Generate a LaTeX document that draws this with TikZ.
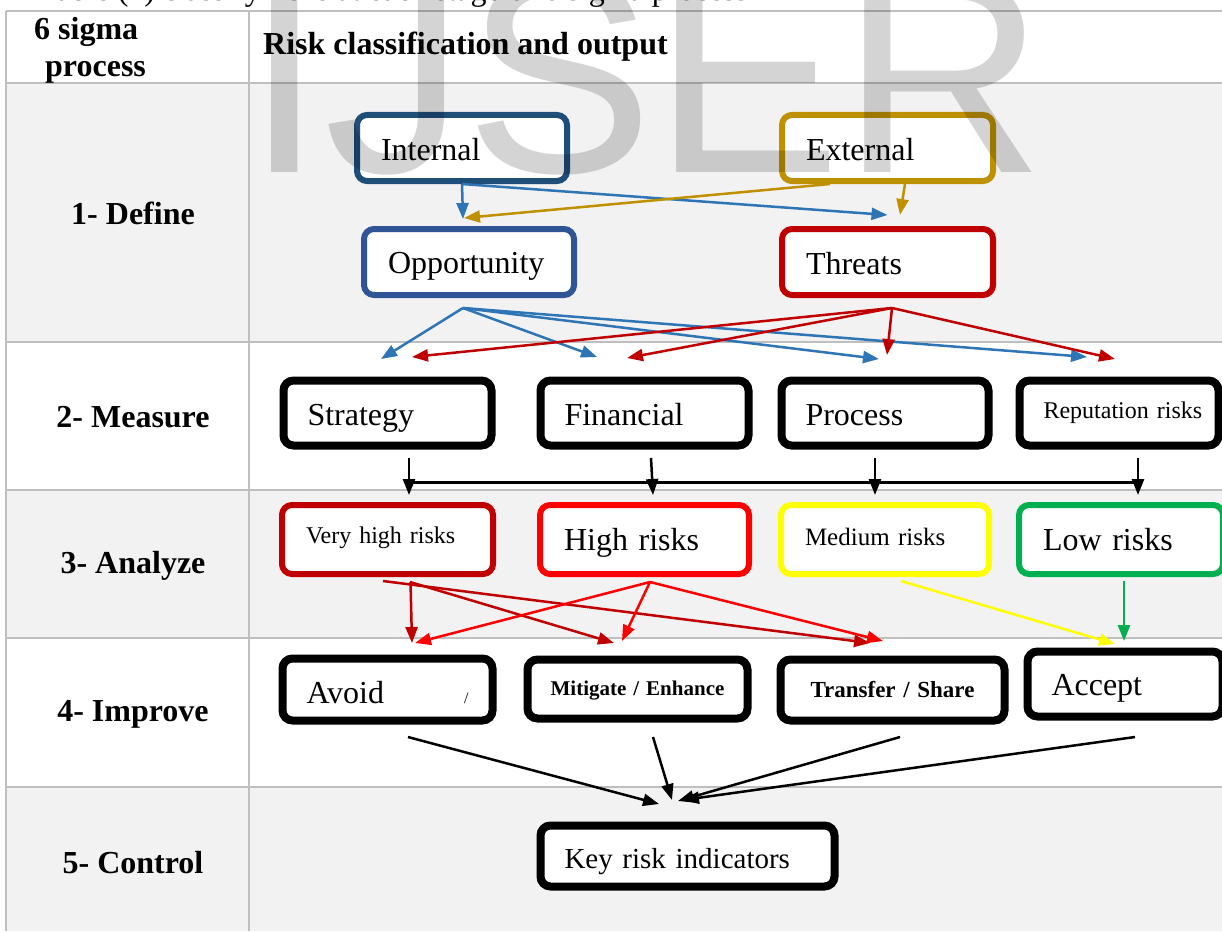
\documentclass[tikz,border=0pt]{standalone}
\usepackage{fontspec}
\setmainfont{Liberation Serif}
\newfontfamily\wmfont{Liberation Sans}
\usetikzlibrary{arrows.meta}
\newcommand\fs[1]{\fontsize{#1}{#1}\selectfont}
\definecolor{dblue}{HTML}{1F4E79}
\definecolor{gold}{HTML}{BF9000}
\definecolor{mblue}{HTML}{2F5597}
\definecolor{dred}{HTML}{C00000}
\definecolor{abl}{HTML}{2E75B6}
\definecolor{rred}{HTML}{FF0000}
\definecolor{yel}{HTML}{FFFF00}
\definecolor{grn}{HTML}{00B050}
\definecolor{cellgrey}{HTML}{F2F2F2}
\definecolor{rulegrey}{HTML}{BFBFBF}
\begin{document}
\begin{tikzpicture}[x=1pt,y=-1pt,
  bx/.style={draw=#1, fill=white, rounded corners=10pt, inner xsep=24pt, inner ysep=0pt, align=left, font=\fs{32}, text depth=0pt},
  bl/.style={text height=#1},
  cbx/.style={bx=#1, line width=6pt},
  kbx/.style={bx=black, line width=8pt},
  ar/.style={draw=#1, line width=2.5pt, -{Triangle[length=16pt,width=12pt]}},
  rowlbl/.style={font=\fs{32}\bfseries, inner sep=0pt},
  gridline/.style={draw=rulegrey, line width=2pt}]
\useasboundingbox (0,0) rectangle (1222,931);
\clip (0,0) rectangle (1222,931);
\fill[white] (0,0) rectangle (1222,931);
% table
\fill[cellgrey] (6,83) rectangle (1222,342);
\fill[cellgrey] (6,490) rectangle (1222,638);
\fill[cellgrey] (6,787) rectangle (1222,931);
\draw[gridline] (6,11) -- (1222,11);
\draw[gridline] (6,83) -- (1222,83);
\draw[gridline] (6,342) -- (1222,342);
\draw[gridline] (6,490) -- (1222,490);
\draw[gridline] (6,638) -- (1222,638);
\draw[gridline] (6,787) -- (1222,787);
\draw[gridline] (6,11) -- (6,931);
\draw[gridline] (249,11) -- (249,931);
% caption (cut off at top)
\node[anchor=base west, inner sep=0pt, font=\fs{32}] (cap) at (39,1) {Table (1) classify risks at each stage of 6 sigma process};
% header and row labels
\node[anchor=west, inner sep=0pt, align=left, font=\fontsize{32}{37}\selectfont\bfseries] (hdrA) at (34,50) {6 sigma\\\hspace*{11pt}process};
\node[anchor=west, rowlbl] (hdrB) at (263,47) {Risk classification and output};
\node[rowlbl] (lDefine) at (133,213) {1- Define};
\node[rowlbl] (lMeasure) at (133,417) {2- Measure};
\node[rowlbl] (lAnalyze) at (133,566) {3- Analyze};
\node[rowlbl] (lImprove) at (133,714) {4- Improve};
\node[rowlbl] (lControl) at (133,863) {5- Control};
% define row
\node[cbx=dblue, bl=24pt, minimum width=210pt, minimum height=66pt, text width=162pt] (internal) at (462,148) {Internal};
\node[cbx=gold, bl=24pt, minimum width=211pt, minimum height=66pt, text width=163pt] (external) at (887.5,148) {External};
\node[cbx=mblue, bl=22pt, minimum width=210pt, minimum height=66pt, text width=162pt] (opportunity) at (469,262) {Opportunity};
\node[cbx=dred, bl=24pt, minimum width=211pt, minimum height=66pt, text width=163pt] (threats) at (887.5,262) {Threats};
% measure row
\node[kbx, bl=24pt, minimum width=208pt, minimum height=65pt, text width=160pt] (strategy) at (387.5,413) {Strategy};
\node[kbx, bl=24pt, minimum width=208pt, minimum height=65pt, text width=160pt] (financial) at (644.5,413) {Financial};
\node[kbx, bl=24pt, minimum width=207pt, minimum height=65pt, text width=159pt] (process) at (885,413) {Process};
\node[kbx, bl=10pt, minimum width=199pt, minimum height=65pt, text width=151pt, font=\fs{24}] (reputation) at (1119,413) {\mbox{Reputation risks}};
% analyze row
\node[cbx=dred, bl=7pt, minimum width=211pt, minimum height=69pt, text width=163pt, font=\fs{24}] (veryhigh) at (387.5,539.5) {Very high risks};
\node[cbx=rred, bl=21pt, minimum width=209pt, minimum height=69pt, text width=161pt] (high) at (644.5,539.5) {High risks};
\node[cbx=yel, bl=11pt, minimum width=208pt, minimum height=69pt, text width=160pt, font=\fs{25}] (medium) at (885,539.5) {Medium risks};
\node[cbx=grn, bl=21pt, minimum width=204pt, minimum height=69pt, text width=156pt] (low) at (1121,539.5) {Low risks};
% improve row
\node[kbx, bl=27pt, minimum width=210pt, minimum height=62pt, text width=162pt] (avoid) at (387.5,689.5) {Avoid\hfill{\fs{16}/}\hspace*{3pt}};
\node[kbx, bl=12pt, minimum width=220pt, minimum height=59pt, inner xsep=5pt, text width=210pt, align=center, font=\fs{21}\bfseries] (mitigate) at (637.5,689) {Mitigate / Enhance};
\node[kbx, bl=14pt, minimum width=224pt, minimum height=61pt, inner xsep=5pt, text width=214pt, align=center, font=\fs{23}\bfseries] (transfer) at (892.5,690) {Transfer / Share};
\node[kbx, bl=22pt, minimum width=195pt, minimum height=65pt, text width=147pt] (accept) at (1125,684) {Accept};
% control row
\node[kbx, bl=24pt, minimum width=294pt, minimum height=61pt, text width=246pt, font=\fs{29}] (key) at (687.5,856) {Key risk indicators};
% define arrows
\draw[ar=abl] (internal.south) -- ([xshift=-6pt,yshift=7pt]opportunity.north);
\draw[ar=abl] (internal.south) -- ([yshift=11pt]threats.north);
\draw[ar=gold] ([xshift=-57.5pt]external.south) -- ([xshift=-5pt,yshift=8pt]opportunity.north);
\draw[ar=gold] ([xshift=17.5pt]external.south) -- ([xshift=12.5pt,yshift=11pt]threats.north);
% opportunity / threats to measure
\draw[ar=abl] ([xshift=-6pt,yshift=-10pt]opportunity.south) -- ([xshift=-6.5pt,yshift=17.5pt]strategy.north);
\draw[ar=abl] ([xshift=-6pt,yshift=-10pt]opportunity.south) -- ([xshift=-47.5pt,yshift=19.5pt]financial.north);
\draw[ar=abl] ([xshift=-6pt,yshift=-10pt]opportunity.south) -- ([xshift=-6pt,yshift=17.5pt]process.north);
\draw[ar=abl] ([xshift=-6pt,yshift=-10pt]opportunity.south) -- ([xshift=-32pt,yshift=19.5pt]reputation.north);
\draw[ar=dred] ([xshift=4.5pt,yshift=-10pt]threats.south) -- ([xshift=24.5pt,yshift=19.5pt]strategy.north);
\draw[ar=dred] ([xshift=4.5pt,yshift=-10pt]threats.south) -- ([xshift=-17.5pt,yshift=18.5pt]financial.north);
\draw[ar=dred] ([xshift=4.5pt,yshift=-10pt]threats.south) -- ([xshift=2pt,yshift=21.5pt]process.north);
\draw[ar=dred] ([xshift=4.5pt,yshift=-10pt]threats.south) -- ([xshift=-4pt,yshift=17.5pt]reputation.north);
% measure to analyze
\draw[line width=3pt] ([xshift=21.5pt,yshift=-32.5pt]strategy.south) -- ([xshift=19pt,yshift=-32.5pt]reputation.south);
\draw[ar=black] ([xshift=21.5pt,yshift=-8.5pt]strategy.south) -- ([xshift=21.5pt,yshift=7pt]veryhigh.north);
\draw[ar=black] ([xshift=6.5pt,yshift=-8.5pt]financial.south) -- ([xshift=8.5pt,yshift=7pt]high.north);
\draw[ar=black] ([xshift=-10pt,yshift=-8.5pt]process.south) -- ([xshift=-10pt,yshift=7pt]medium.north);
\draw[ar=black] ([xshift=19pt,yshift=-8.5pt]reputation.south) -- ([xshift=17pt,yshift=7pt]low.north);
% analyze to improve
\draw[ar=dred] ([xshift=23pt,yshift=-5pt]veryhigh.south) -- ([xshift=24.5pt,yshift=11.5pt]avoid.north);
\draw[ar=dred] ([xshift=22.5pt,yshift=-5pt]veryhigh.south) -- ([xshift=-23.5pt,yshift=12.5pt]mitigate.north);
\draw[ar=dred] ([xshift=-4.5pt,yshift=-4pt]veryhigh.south) -- ([xshift=-22.5pt,yshift=12.5pt]transfer.north);
\draw[ar=rred] ([xshift=5.5pt,yshift=-5pt]high.south) -- ([xshift=27.5pt,yshift=11.5pt]avoid.north);
\draw[ar=rred] ([xshift=5.5pt,yshift=-5pt]high.south) -- ([xshift=-15.5pt,yshift=14.5pt]mitigate.north);
\draw[ar=rred] ([xshift=5.5pt,yshift=-5pt]high.south) -- ([xshift=-9.5pt,yshift=14.5pt]transfer.north);
\draw[ar=yel] ([xshift=16pt,yshift=-4pt]medium.south) -- ([xshift=-10pt,yshift=3.5pt]accept.north);
\draw[ar=grn] ([xshift=3pt,yshift=-4pt]low.south) -- ([xshift=-1pt,yshift=6.5pt]accept.north);
% improve to control
\draw[ar=black] ([xshift=20.5pt,yshift=-12.5pt]avoid.south) -- ([xshift=-28.5pt,yshift=17.5pt]key.north);
\draw[ar=black] ([xshift=15.5pt,yshift=-14.5pt]mitigate.south) -- ([xshift=-15.5pt,yshift=21.5pt]key.north);
\draw[ar=black] ([xshift=7.5pt,yshift=-12.5pt]transfer.south) -- ([xshift=-9.5pt,yshift=20.5pt]key.north);
\draw[ar=black] ([xshift=10pt,yshift=-16.5pt]accept.south) -- ([xshift=-4.5pt,yshift=21.5pt]key.north);
% watermark
\node[anchor=base west, inner sep=0pt, text=black, text opacity=0.17, font=\wmfont\fontsize{282}{282}\selectfont] (wm) at (245.5,172) {IJSER};
\end{tikzpicture}
\end{document}
